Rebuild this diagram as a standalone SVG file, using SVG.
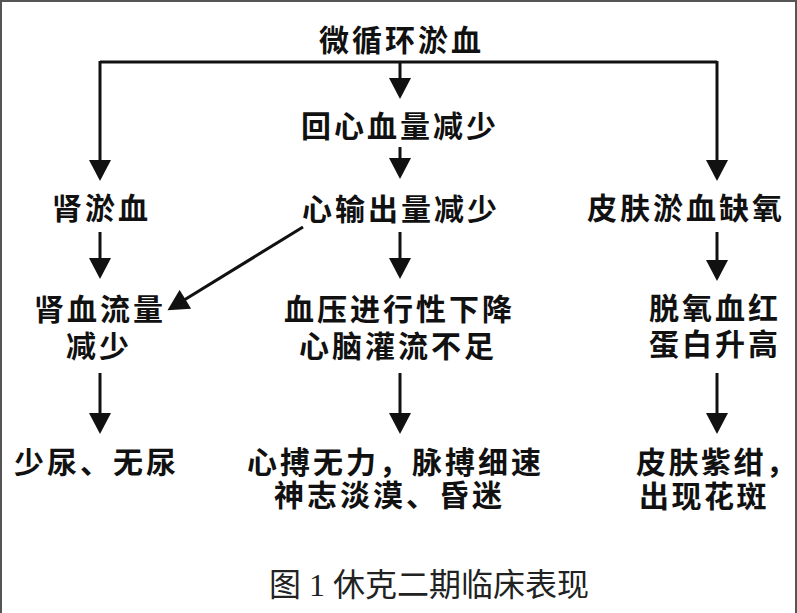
<svg xmlns="http://www.w3.org/2000/svg" width="797" height="613" viewBox="0 0 797 613">
<style>
.t{font-family:"Liberation Sans","Noto Sans CJK SC",sans-serif;font-size:30px;font-weight:700;letter-spacing:3px;fill:#111}
.cap{font-family:"Liberation Serif","Noto Sans CJK SC",serif;font-size:32px;fill:#222}
.c{stroke:#111;stroke-width:3;fill:none}
.a{marker-end:url(#ah)}
</style>
<defs>
<marker id="ah" markerUnits="userSpaceOnUse" markerWidth="22" markerHeight="22" viewBox="0 0 21 22" refX="11" refY="11" orient="auto">
<path d="M0,0 L21,11 L0,22 z" fill="#111"/>
</marker>
</defs>
<rect x="1" y="1" width="795" height="640" fill="#fff" stroke="#555" stroke-width="2"/>
<g id="connectors">
<path class="c" d="M100,62 H717"/>
<path class="c a" d="M100,61 V171"/>
<path class="c a" d="M717,61 V171"/>
<path class="c a" d="M400,62 V89"/>
<path class="c a" d="M400,147 V169"/>
<path class="c a" d="M100,232 V269"/>
<path class="c a" d="M400,232 V269"/>
<path class="c a" d="M717,232 V271"/>
<path class="c a" d="M303,227 L176,305"/>
<path class="c a" d="M100,373 V424"/>
<path class="c a" d="M400,373 V424"/>
<path class="c a" d="M717,373 V424"/>
</g>
<g id="n-top"><text class="t" x="319" y="51">微循环淤血</text></g>
<g id="n-return"><text class="t" x="301" y="137">回心血量减少</text></g>
<g id="n-kidney"><text class="t" x="52" y="219">肾淤血</text></g>
<g id="n-output"><text class="t" x="302" y="220">心输出量减少</text></g>
<g id="n-skin"><text class="t" x="587" y="219">皮肤淤血缺氧</text></g>
<g id="n-renalflow"><text class="t"><tspan x="34" y="320">肾血流量</tspan><tspan x="66" y="357">减少</tspan></text></g>
<g id="n-bp"><text class="t"><tspan x="284" y="320">血压进行性下降</tspan><tspan x="299" y="357">心脑灌流不足</tspan></text></g>
<g id="n-deoxy"><text class="t"><tspan x="649" y="319">脱氧血红</tspan><tspan x="649" y="355">蛋白升高</tspan></text></g>
<g id="n-urine"><text class="t" x="14" y="473">少尿、无尿</text></g>
<g id="n-heart"><text class="t"><tspan x="247" y="473">心搏无力，脉搏细速</tspan><tspan x="274" y="506">神志淡漠、昏迷</tspan></text></g>
<g id="n-cyanosis"><text class="t" style="letter-spacing:2.5px"><tspan x="636" y="473">皮肤紫绀<tspan style="letter-spacing:0">，</tspan></tspan><tspan x="639" y="507">出现花斑</tspan></text></g>
<text class="cap" x="269" y="596">图 1 休克二期临床表现</text>
</svg>
